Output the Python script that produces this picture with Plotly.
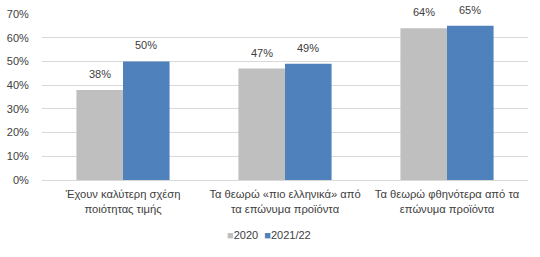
import plotly.graph_objects as go

categories = ["Έχουν καλύτερη σχέση<br>ποιότητας τιμής",
              "Τα θεωρώ «πιο ελληνικά» από<br>τα επώνυμα προϊόντα",
              "Τα θεωρώ φθηνότερα από τα<br>επώνυμα προϊόντα"]
series_names = ["2020", "2021/22"]
values_2020 = [0.38, 0.47, 0.64]
values_2021 = [0.50, 0.49, 0.65]
colors = ["#BFBFBF", "#4F81BD"]

fam = "Liberation Sans, Arial, sans-serif"
font = dict(family=fam, size=11, color="#404040")
catfont = dict(family=fam, size=11.2, color="#404040")
legfont = dict(family=fam, size=11, color="#404040")

W, H = 540, 257
ML, MR, MT, MB = 42, 12, 14, 77
BARGAP = 0.425
plot_w = W - ML - MR
plot_h = H - MT - MB
bar_px = plot_w / len(categories) * (1 - BARGAP) / len(series_names)

fig = go.Figure()
all_vals = [values_2020, values_2021]
for i, (name, vals, col) in enumerate(zip(series_names, all_vals, colors)):
    fig.add_trace(go.Bar(
        x=categories, y=vals, name=name, marker=dict(color=col, line=dict(width=0)),
        showlegend=False,
    ))
    shift = (i - (len(series_names) - 1) / 2) * bar_px
    for c, v in zip(categories, vals):
        fig.add_annotation(x=c, y=v, xref="x", yref="y", text=f"{round(v*100)}%",
                           showarrow=False, xshift=shift, yshift=8,
                           yanchor="bottom", font=font)

legend_text = "&nbsp;&nbsp;".join(
    f"<span style='color:{c}'>■</span>{n}" for n, c in zip(series_names, colors))
fig.add_annotation(text=legend_text, x=(268.5 - ML) / plot_w, xref="paper",
                   y=-(235 - (H - MB)) / plot_h, yref="paper",
                   showarrow=False, font=legfont, xanchor="center", yanchor="middle")

fig.update_layout(
    width=W, height=H,
    margin=dict(l=ML, r=MR, t=MT, b=MB),
    paper_bgcolor="white", plot_bgcolor="white",
    font=font,
    barmode="group", bargap=BARGAP, bargroupgap=0,
    showlegend=False,
    xaxis=dict(showgrid=False, showline=True, linecolor="#D9D9D9", linewidth=1,
               ticks="", tickfont=catfont, tickangle=0, automargin=False,
               ticklabelstandoff=4),
    yaxis=dict(range=[0, 0.7], dtick=0.1, tickformat=".0%", showgrid=True,
               gridcolor="#D9D9D9", gridwidth=1, zeroline=False, showline=False,
               ticks="outside", ticklen=10, tickcolor="rgba(0,0,0,0)", tickfont=font,
               automargin=False),
)

fig.write_html("out.html")
